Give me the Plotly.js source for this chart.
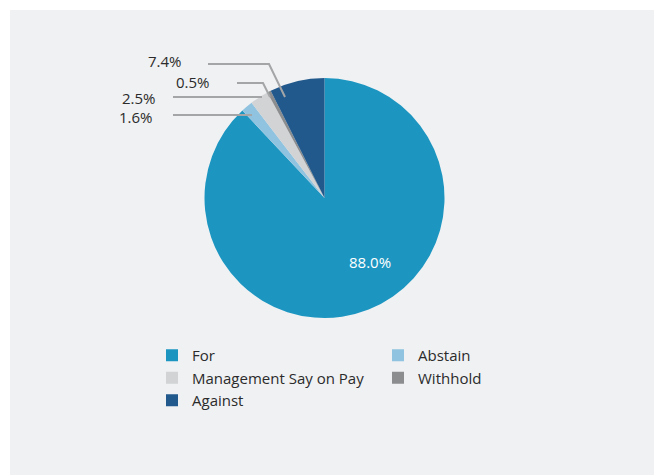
<!DOCTYPE html>
<html>
<head>
<meta charset="utf-8">
<script src="https://cdn.plot.ly/plotly-3.0.1.min.js"></script>
<style>
html,body{margin:0;padding:0;background:#ffffff;}
#chart{position:absolute;left:10px;top:10px;width:644px;height:465px;}
</style>
</head>
<body>
<div id="chart"></div>
<script>
// ---- data ----
var labels = ["For", "Abstain", "Management Say on Pay", "Withhold", "Against"];
var values = [88.0, 1.6, 2.5, 0.5, 7.4];
var sliceColors = ["#1c96c1", "#8fc3df", "#d1d3d5", "#8b8d8f", "#22598c"];

// ---- layout helpers (pixel -> paper) ----
var W = 644, H = 465, OX = 10, OY = 10;
function px(x){ return (x - OX) / W; }
function py(y){ return 1 - (y - OY) / H; }

// label placement: [textX, textY, anchor, lineStartX, elbowX, elbowY, endX, endY, color]
var labelPos = {
  "For":      [370, 262, "center"],
  "Against":  [184, 61, "right", 208, 269, 64, 285, 97],
  "Withhold": [212, 82, "right", 237, 263, 83, 270, 97],
  "Management Say on Pay": [158, 98, "right", 173, 262, 97, 262, 97],
  "Abstain":  [155, 117, "right", 173, 252, 115, 252, 115]
};

var annotations = [];
var shapes = [];
labels.forEach(function(lab, i){
  var o = labelPos[lab];
  if (!o) return;
  var inside = o.length === 3;
  annotations.push({
    xref: "paper", yref: "paper", x: px(o[0]), y: py(o[1]),
    xanchor: o[2], yanchor: "middle", showarrow: false,
    text: values[i].toFixed(1) + "%",
    font: {family: "Open Sans, sans-serif", size: 15, color: inside ? "#ffffff" : "#2b2b2b"}
  });
  if (!inside) {
    shapes.push({
      type: "path", xref: "paper", yref: "paper",
      path: "M" + px(o[3]) + "," + py(o[5]) + " L" + px(o[4]) + "," + py(o[5]) + " L" + px(o[6]) + "," + py(o[7]),
      line: {color: "#a3a5a7", width: 2}
    });
  }
});

var trace = {
  type: "pie",
  labels: labels,
  values: values,
  sort: false,
  direction: "clockwise",
  rotation: 0,
  marker: {colors: sliceColors, line: {width: 0}},
  textinfo: "none",
  hoverinfo: "label+percent",
  domain: {x: [px(204.5), px(444.5)], y: [py(318), py(78)]}
};

var layout = {
  width: W, height: H,
  margin: {l: 0, r: 0, t: 0, b: 0},
  paper_bgcolor: "#f0f1f3",
  plot_bgcolor: "#f0f1f3",
  showlegend: true,
  legend: {
    orientation: "h",
    x: px(152), y: py(339), xanchor: "left", yanchor: "top",
    entrywidth: 181, entrywidthmode: "pixels",
    traceorder: "normal",
    font: {family: "Open Sans, sans-serif", size: 15, color: "#2b2b2b"},
    bgcolor: "rgba(0,0,0,0)",
    itemclick: false
  },
  annotations: annotations,
  shapes: shapes
};

Plotly.newPlot("chart", [trace], layout, {displayModeBar: false, staticPlot: true});
</script>
</body>
</html>
